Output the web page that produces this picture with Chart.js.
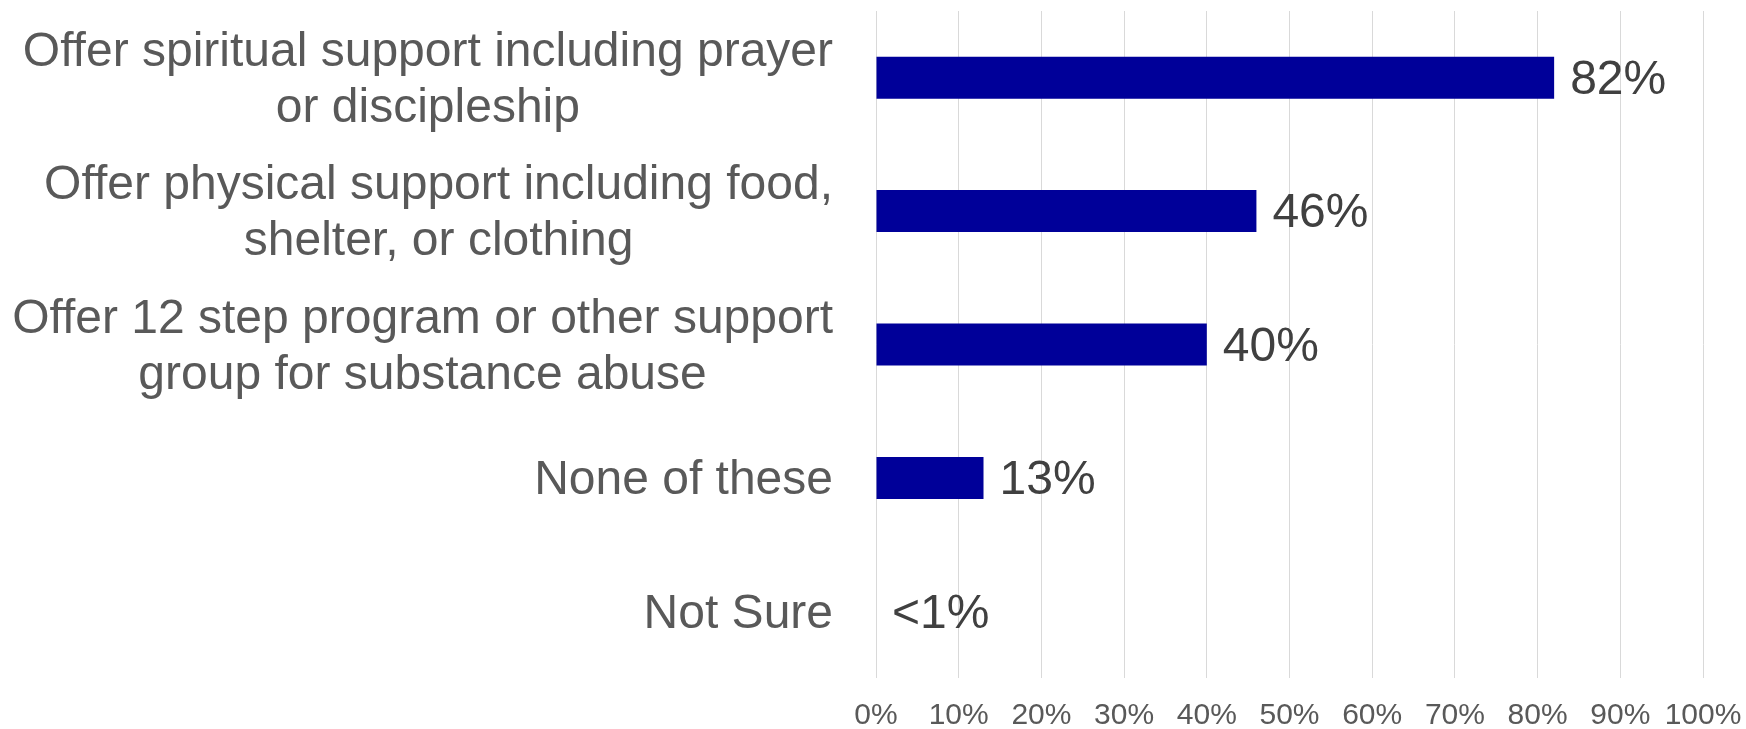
<!DOCTYPE html>
<html>
<head>
<meta charset="utf-8">
<script src="https://cdn.jsdelivr.net/npm/chart.js@4"></script>
<style>
    body { margin: 0; background: #FFFFFF; }
    #wrap { width: 1746px; height: 729px; }
</style>
</head>
<body>
<div id="wrap"><canvas id="chartApoio"></canvas></div>
<script>
const categorias = [
    ["Offer spiritual support including prayer", "or discipleship"],
    ["Offer physical support including food,", "shelter, or clothing"],
    ["Offer 12 step program or other support", "group for substance abuse"],
    ["None of these"],
    ["Not Sure"],
];
const valores = [82, 46, 40, 13, 0];
const rotulos = ["82%", "46%", "40%", "13%", "<1%"];
const ticksX = [0, 10, 20, 30, 40, 50, 60, 70, 80, 90, 100];

const fonte = "'Liberation Sans', Arial, sans-serif";

// desenha as categorias (bloco alinhado a direita, linhas centralizadas) e os valores
const rotulosPlugin = {
    id: "rotulos",
    afterDatasetsDraw(chart) {
        const ctx = chart.ctx;
        const y = chart.scales.y;
        const meta = chart.getDatasetMeta(0);
        ctx.save();
        ctx.font = "48px " + fonte;
        ctx.textBaseline = "middle";

        categorias.forEach((linhas, i) => {
            const cy = y.getPixelForTick(i) + 3;
            const larg = Math.max(...linhas.map(l => ctx.measureText(l).width));
            const centro = 833 - larg / 2;
            ctx.fillStyle = "#595959";
            ctx.textAlign = "center";
            linhas.forEach((l, k) => {
                ctx.fillText(l, centro, cy + (k - (linhas.length - 1) / 2) * 56);
            });
        });

        meta.data.forEach((bar, i) => {
            ctx.fillStyle = "#404040";
            ctx.textAlign = "left";
            ctx.fillText(rotulos[i], bar.x + 16, bar.y + 3);
        });
        ctx.restore();
    }
};

new Chart(document.getElementById("chartApoio"), {
    type: "bar",
    data: {
        labels: categorias,
        datasets: [{
            data: valores,
            backgroundColor: "#000099",
            barPercentage: 0.315,
            categoryPercentage: 1,
        }]
    },
    options: {
        indexAxis: "y",
        responsive: true,
        maintainAspectRatio: false,
        animation: false,
        layout: { padding: { top: 11, right: 43, left: 0, bottom: 0 } },
        plugins: {
            legend: { display: false },
            tooltip: { enabled: false },
        },
        scales: {
            x: {
                min: 0,
                max: 100,
                afterBuildTicks: (scale) => {
                    scale.ticks = ticksX.map(v => ({ value: v }));
                },
                afterFit: (scale) => {
                    scale.height = 51;
                    scale.paddingLeft = 0;
                    scale.paddingRight = 0;
                },
                grid: { color: "#D9D9D9", lineWidth: 1, drawTicks: false },
                border: { display: false },
                ticks: {
                    color: "#595959",
                    padding: 20,
                    maxRotation: 0,
                    autoSkip: false,
                    font: { size: 30, family: fonte },
                    callback: (v) => v + "%",
                },
            },
            y: {
                afterFit: (scale) => { scale.width = 876; },
                grid: { display: false },
                border: { display: false },
                ticks: { display: false },
            },
        },
    },
    plugins: [rotulosPlugin],
});
</script>
</body>
</html>
